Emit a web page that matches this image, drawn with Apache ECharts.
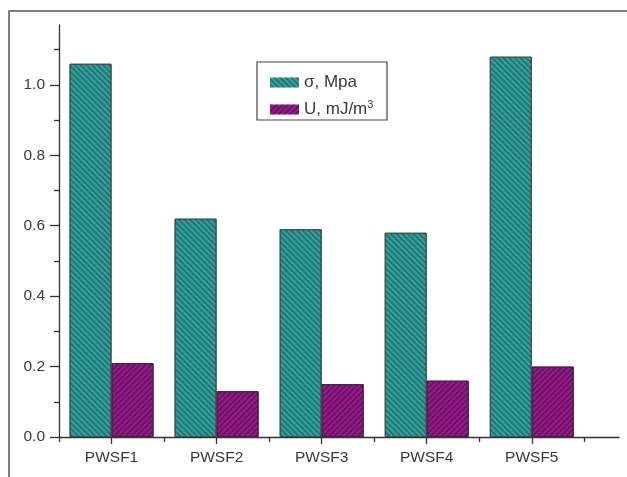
<!DOCTYPE html>
<html>
<head>
<meta charset="utf-8">
<script src="https://cdn.jsdelivr.net/npm/echarts@6/dist/echarts.min.js"></script>
<style>
  html, body { margin: 0; padding: 0; background: #ffffff; }
  #chart { width: 627px; height: 477px; }
</style>
</head>
<body>
<div id="chart"></div>
<script>
// Samples along the x axis
var categories = ['PWSF1', 'PWSF2', 'PWSF3', 'PWSF4', 'PWSF5'];
// Strength, MPa
var sigmaValues = [1.06, 0.62, 0.59, 0.58, 1.08];
// Energy, mJ/m3
var energyValues = [0.21, 0.13, 0.15, 0.16, 0.20];
// Y axis labels and minor tick positions
var yLabelValues = [0, 0.2, 0.4, 0.6, 0.8, 1.0];
var yMinorValues = [0.1, 0.3, 0.5, 0.7, 0.9, 1.1];
var seriesNames = ['σ, Mpa', 'U, mJ/m3'];

var FONT = '"Liberation Sans", Arial, sans-serif';
var TEXT = '#3a3a3a';
var AXIS = '#333333';

// category positions on a numeric axis: 1..n
var xPos = categories.map(function (c, i) { return i + 1; });
var xMinor = [0.5].concat(xPos.map(function (p) { return p + 0.5; }));

function pairs(vals) {
  return vals.map(function (v, i) { return [xPos[i], v]; });
}

var chart = echarts.init(document.getElementById('chart'), null, { renderer: 'canvas' });

var X_MIN = 0.5, X_MAX = 5.83, Y_MIN = 0, Y_MAX = 1.17;

chart.setOption({
  backgroundColor: '#ffffff',
  animation: false,
  grid: { left: 59, right: 8, top: 25, bottom: 40 },
  legend: {
    orient: 'vertical',
    left: 265,
    top: 69,
    icon: 'rect',
    itemWidth: 29,
    itemHeight: 10,
    itemGap: 8,
    itemStyle: { borderWidth: 0 },
    data: seriesNames,
    textStyle: {
      fontFamily: FONT,
      fontSize: 17,
      color: TEXT,
      lineHeight: 16,
      rich: {
        sup: { fontSize: 11, fontFamily: FONT, color: TEXT, padding: [0, 0, 10, 0] }
      }
    },
    formatter: function (name) {
      return name === seriesNames[1] ? 'U, mJ/m{sup|3}' : name;
    }
  },
  xAxis: [{
    type: 'value',
    min: X_MIN,
    max: X_MAX,
    position: 'bottom',
    splitLine: { show: false },
    axisLine: { onZero: false, lineStyle: { color: AXIS, width: 1.3 } },
    axisTick: { customValues: xPos, length: 7, lineStyle: { color: AXIS, width: 1.3 } },
    axisLabel: {
      customValues: xPos,
      margin: 13,
      fontFamily: FONT,
      fontSize: 15.5,
      color: TEXT,
      formatter: function (v) { return categories[Math.round(v) - 1] || ''; }
    }
  }, {
    type: 'value',
    min: X_MIN,
    max: X_MAX,
    position: 'bottom',
    splitLine: { show: false },
    axisLine: { show: false },
    axisTick: { customValues: xMinor, length: 5, lineStyle: { color: AXIS, width: 1.3 } },
    axisLabel: { show: false }
  }],
  yAxis: [{
    type: 'value',
    min: Y_MIN,
    max: Y_MAX,
    position: 'left',
    splitLine: { show: false },
    axisLine: { show: true, onZero: false, lineStyle: { color: AXIS, width: 1.3 } },
    axisTick: { customValues: yLabelValues, length: 9, lineStyle: { color: AXIS, width: 1.3 } },
    axisLabel: {
      customValues: yLabelValues,
      margin: 14,
      fontFamily: FONT,
      fontSize: 15.5,
      color: TEXT,
      formatter: function (v) { return v.toFixed(1); }
    }
  }, {
    type: 'value',
    min: Y_MIN,
    max: Y_MAX,
    position: 'left',
    splitLine: { show: false },
    axisLine: { show: false },
    axisTick: { customValues: yMinorValues, length: 5, lineStyle: { color: AXIS, width: 1.3 } },
    axisLabel: { show: false }
  }],
  series: [{
    name: seriesNames[0],
    type: 'bar',
    xAxisIndex: 0,
    yAxisIndex: 0,
    barWidth: 42,
    barGap: '0%',
    data: pairs(sigmaValues),
    itemStyle: {
      color: '#33a29f',
      borderColor: '#3a5252',
      borderWidth: 1,
      decal: {
        symbol: 'rect',
        symbolSize: 1,
        dashArrayX: [[1, 0]],
        dashArrayY: [1.2, 2],
        rotation: Math.PI / 4,
        color: 'rgba(10, 50, 50, 0.4)'
      }
    }
  }, {
    name: seriesNames[1],
    type: 'bar',
    xAxisIndex: 0,
    yAxisIndex: 0,
    barWidth: 42,
    barGap: '0%',
    data: pairs(energyValues),
    itemStyle: {
      color: '#961c8b',
      borderColor: '#4a2246',
      borderWidth: 1,
      decal: {
        symbol: 'rect',
        symbolSize: 1,
        dashArrayX: [[1, 0]],
        dashArrayY: [1.2, 2],
        rotation: -Math.PI / 4,
        color: 'rgba(50, 0, 45, 0.4)'
      }
    }
  }],
  graphic: [{
    // outer frame (top and left edges visible)
    type: 'rect',
    shape: { x: 9, y: 11, width: 700, height: 600 },
    style: { fill: 'none', stroke: '#555555', lineWidth: 1.5 },
    silent: true
  }, {
    // legend box
    type: 'rect',
    shape: { x: 257, y: 62, width: 130, height: 58 },
    style: { fill: 'none', stroke: '#444444', lineWidth: 1.2 },
    silent: true
  }]
});
</script>
</body>
</html>
